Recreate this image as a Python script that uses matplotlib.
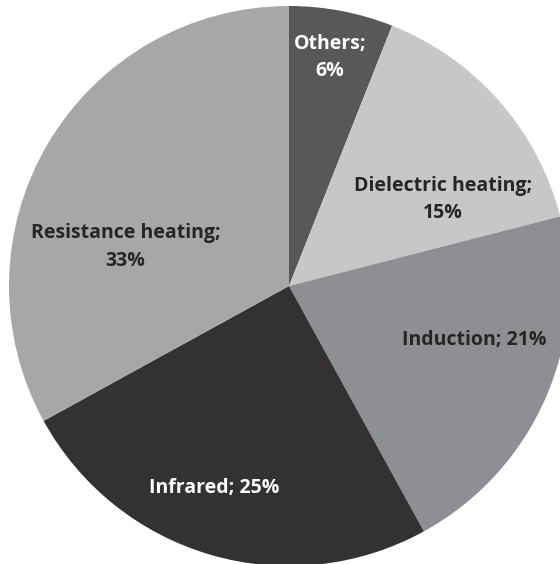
import numpy as np
import matplotlib
matplotlib.use("Agg")
import matplotlib.pyplot as plt

categories = ["Others", "Dielectric heating", "Induction", "Infrared", "Resistance heating"]
shares = [6, 15, 21, 25, 33]
label_texts = ["Others;\n6%", "Dielectric heating;\n15%", "Induction; 21%",
               "Infrared; 25%", "Resistance heating;\n33%"]

colors = ["#58585a", "#c6c7c8", "#8e8f92", "#333134", "#a5a7a8"]
text_colors = ["white", "#262626", "#262626", "white", "#262626"]
# label placement (angle in degrees, distance as fraction of radius)
label_angle = [79.8, 29.3, -16.3, -110.3, 166.5]
label_dist = [0.83, 0.63, 0.69, 0.77, 0.60]

fig = plt.figure(figsize=(5.6, 5.64), dpi=100)
ax = fig.add_axes([0, 0, 1, 1])

cx, cy, r = 289, 278, 280
ax.pie(shares, colors=colors, startangle=90, counterclock=False,
       center=(cx, cy), radius=r, frame=True,
       wedgeprops=dict(linewidth=0))

for txt, col, ang, d in zip(label_texts, text_colors, label_angle, label_dist):
    a = np.deg2rad(ang)
    ax.text(cx + d * r * np.cos(a), cy + d * r * np.sin(a), txt,
            ha="center", va="center", color=col, fontsize=14,
            fontweight="bold", family="Open Sans", linespacing=1.5)

ax.set_xlim(0, 560)
ax.set_ylim(0, 564)
ax.set_aspect("equal")
ax.axis("off")

fig.savefig("out.png", dpi=100)
